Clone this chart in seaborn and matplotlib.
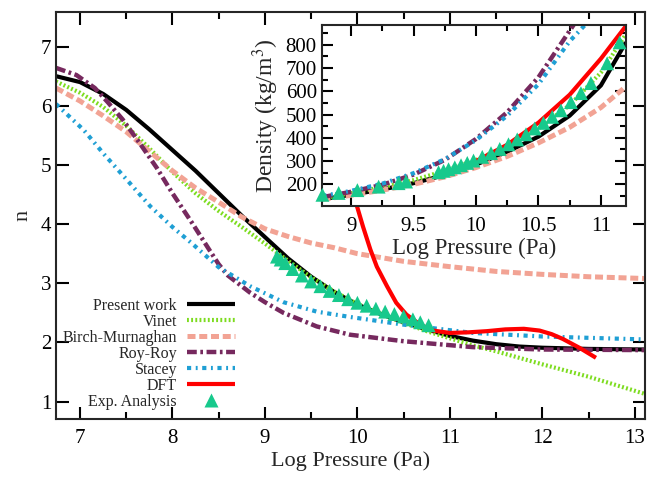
import numpy as np
import pandas as pd
import matplotlib
matplotlib.use("Agg")
import matplotlib.pyplot as plt
import seaborn as sns
from matplotlib.ticker import MultipleLocator, FuncFormatter
from matplotlib.lines import Line2D

# ---------------- main panel data (log pressure vs n) ----------------
x_present = [6.74, 7.0, 7.25, 7.5, 7.75, 8.0, 8.25, 8.5, 8.75, 9.0, 9.25, 9.5, 9.75,
             10.0, 10.25, 10.5, 10.75, 11.0, 11.25, 11.5, 11.75, 12.0, 12.5, 13.11]
n_present = [6.50, 6.40, 6.20, 5.93, 5.60, 5.25, 4.90, 4.52, 4.14, 3.78, 3.42, 3.11, 2.85,
             2.64, 2.48, 2.34, 2.22, 2.11, 2.03, 1.97, 1.93, 1.91, 1.89, 1.88]

x_vinet = [6.74, 7.0, 7.25, 7.5, 7.75, 8.0, 8.25, 8.5, 8.75, 9.0, 9.25, 9.5, 9.75,
           10.0, 10.25, 10.5, 10.75, 11.0, 11.25, 11.5, 12.0, 12.5, 13.11]
n_vinet = [6.41, 6.22, 5.98, 5.66, 5.28, 4.88, 4.52, 4.22, 3.95, 3.67, 3.38, 3.10, 2.86,
           2.65, 2.49, 2.33, 2.19, 2.07, 1.95, 1.85, 1.63, 1.42, 1.13]

x_bm = [6.74, 7.0, 7.25, 7.5, 7.75, 8.0, 8.25, 8.5, 8.75, 9.0, 9.25, 9.5, 9.75,
        10.0, 10.5, 11.0, 11.5, 12.0, 12.5, 13.11]
n_bm = [6.30, 6.08, 5.83, 5.56, 5.23, 4.90, 4.61, 4.37, 4.12, 3.92, 3.79, 3.68, 3.60,
        3.50, 3.37, 3.28, 3.20, 3.15, 3.11, 3.08]

x_rr = [6.74, 6.96, 7.16, 7.3, 7.46, 7.64, 7.83, 8.0, 8.22, 8.4, 8.5, 8.6, 8.84,
        9.0, 9.2, 9.56, 9.92, 10.5, 11.25, 12.0, 13.11]
n_rr = [6.64, 6.52, 6.30, 6.06, 5.77, 5.38, 4.95, 4.52, 4.00, 3.56, 3.32, 3.13, 2.84,
        2.68, 2.50, 2.27, 2.13, 2.02, 1.92, 1.88, 1.87]

x_stacey = [6.74, 7.04, 7.26, 7.5, 7.76, 8.0, 8.22, 8.5, 8.84, 9.2, 9.56, 9.92,
            10.5, 11.25, 12.0, 13.11]
n_stacey = [6.03, 5.59, 5.18, 4.76, 4.30, 3.95, 3.66, 3.27, 2.95, 2.68, 2.52, 2.43,
            2.30, 2.16, 2.10, 2.05]

x_dft = [9.95, 9.99, 10.06, 10.14, 10.21, 10.32, 10.42, 10.53, 10.68, 10.82, 11.0,
         11.2, 11.4, 11.6, 11.8, 11.97, 12.1, 12.22, 12.4, 12.58]
n_dft = [4.90, 4.33, 3.96, 3.57, 3.28, 2.95, 2.67, 2.47, 2.30, 2.20, 2.16,
         2.17, 2.19, 2.22, 2.23, 2.20, 2.14, 2.06, 1.91, 1.74]

x_exp = [9.13, 9.17, 9.22, 9.30, 9.40, 9.50, 9.60, 9.70, 9.80, 9.90, 10.00,
         10.10, 10.20, 10.30, 10.40, 10.50, 10.60, 10.68, 10.77]
n_exp = [3.45, 3.40, 3.34, 3.24, 3.13, 3.03, 2.95, 2.87, 2.80, 2.73, 2.67,
         2.62, 2.57, 2.52, 2.48, 2.44, 2.39, 2.34, 2.29]

# ---------------- inset data (log pressure vs density) ----------------
ix_common = [8.77, 9.0, 9.25, 9.5, 9.75, 10.0, 10.25, 10.5, 10.75, 11.0, 11.2]
rho_present = [136, 155, 178, 205, 240, 285, 340, 405, 495, 625, 810]
rho_vinet = [140, 162, 188, 218, 258, 305, 365, 440, 540, 680, 845]
rho_bm = [135, 153, 175, 200, 232, 272, 320, 378, 445, 530, 620]
ix_rr = [8.77, 9.0, 9.25, 9.5, 9.75, 10.0, 10.25, 10.5, 10.75, 10.8]
rho_rr = [145, 168, 198, 242, 305, 395, 510, 660, 860, 900]
ix_stacey = [8.77, 9.0, 9.25, 9.5, 9.75, 10.0, 10.25, 10.5, 10.75, 10.9]
rho_stacey = [150, 172, 203, 248, 308, 390, 495, 630, 815, 900]
ix_dft = [9.9, 10.0, 10.25, 10.5, 10.75, 11.0, 11.2]
rho_dft = [275, 300, 370, 465, 585, 740, 880]
ix_exp = [8.77, 8.90, 9.05, 9.22, 9.38, 9.44, 9.70, 9.74, 9.78, 9.83, 9.88, 9.93,
          9.98, 10.05, 10.12, 10.19, 10.26, 10.33, 10.40, 10.47, 10.54, 10.61,
          10.68, 10.76, 10.84, 10.92, 11.05, 11.15]
rho_exp = [155, 163, 175, 190, 205, 212, 252, 258, 265, 273, 282, 292,
           302, 318, 334, 352, 372, 393, 415, 440, 464, 490, 518, 553, 592, 635, 720, 810]

labels = ["Present work", "Vinet", "Birch-Murnaghan", "Roy-Roy", "Stacey", "DFT", "Exp. Analysis"]

# ---------------- styles ----------------
C_BLACK = "#000000"
C_VINET = "#7ddc1f"
C_BM = "#f2a394"
C_RR = "#76295e"
C_ST = "#1f9fd4"
C_DFT = "#ff0000"
C_EXP = "#17c98c"

st = {
    "present": dict(color=C_BLACK, lw=3.0, ls="-"),
    "vinet": dict(color=C_VINET, lw=3.0, ls=(0, (0.45, 0.55))),
    "bm": dict(color=C_BM, lw=3.6, ls=(0, (1.6, 0.75))),
    "rr": dict(color=C_RR, lw=3.2, ls=(0, (2.2, 0.8, 0.6, 0.8))),
    "st": dict(color=C_ST, lw=3.0, ls=(0, (1.0, 1.1, 0.45, 1.1))),
    "dft": dict(color=C_DFT, lw=3.0, ls="-"),
}

sns.set_theme(style="ticks")
plt.rcParams["font.family"] = ["Liberation Serif", "DejaVu Serif"]
plt.rcParams["mathtext.fontset"] = "stix"
plt.rcParams["axes.linewidth"] = 1.5

fig = plt.figure(figsize=(6.54, 4.79), dpi=100)
ax = fig.add_axes([0.0856, 0.1246, 0.9006, 0.851])


def draw(a, x, y, key, label=None):
    sns.lineplot(x=x, y=y, ax=a, color=st[key]["color"], linewidth=st[key]["lw"],
                 linestyle=st[key]["ls"], label=label, legend=False, sort=False,
                 solid_capstyle="butt", dash_capstyle="butt")


draw(ax, x_present, n_present, "present")
draw(ax, x_vinet, n_vinet, "vinet")
draw(ax, x_bm, n_bm, "bm")
draw(ax, x_rr, n_rr, "rr")
draw(ax, x_stacey, n_stacey, "st")
draw(ax, x_dft, n_dft, "dft")
sns.scatterplot(x=x_exp, y=n_exp, ax=ax, marker="^", s=100, color=C_EXP,
                edgecolor="none", legend=False, zorder=3)

ax.set_xlim(6.74, 13.11)
ax.set_ylim(0.70, 7.59)
ax.xaxis.set_major_locator(MultipleLocator(1))
ax.xaxis.set_minor_locator(MultipleLocator(0.5))
ax.yaxis.set_major_locator(MultipleLocator(1))
ax.tick_params(axis="both", which="both", direction="in", top=True, right=True,
               labelsize=15, width=1.5, colors="black")
ax.tick_params(which="major", length=9)
ax.tick_params(which="minor", length=5)
ax.tick_params(axis="x", pad=7)
ax.set_xlabel("Log Pressure (Pa)", fontsize=16, labelpad=2)
ax.set_ylabel("n", fontsize=16, labelpad=6)

handles = [Line2D([], [], color=st[k]["color"], lw=st[k]["lw"], ls=st[k]["ls"],
                  solid_capstyle="butt", dash_capstyle="butt")
           for k in ["present", "vinet", "bm", "rr", "st", "dft"]]
handles.append(Line2D([], [], ls="none", marker="^", markersize=10, color=C_EXP,
                      markeredgecolor="none"))
leg = ax.legend(handles, labels, loc="lower left", bbox_to_anchor=(-0.005, 0.0),
                markerfirst=False, frameon=False, fontsize=11.5, handlelength=3.0,
                handletextpad=0.6, labelspacing=0.0, borderaxespad=0.2)
for t in leg.get_texts():
    t.set_ha("right")
leg._legend_box.align = "right"

# ---------------- inset ----------------
ins = fig.add_axes([0.493, 0.570, 0.464, 0.378])
ins.set_facecolor("white")
draw(ins, ix_common, rho_present, "present")
draw(ins, ix_common, rho_vinet, "vinet")
draw(ins, ix_common, rho_bm, "bm")
draw(ins, ix_rr, rho_rr, "rr")
draw(ins, ix_stacey, rho_stacey, "st")
draw(ins, ix_dft, rho_dft, "dft")
sns.scatterplot(x=ix_exp, y=rho_exp, ax=ins, marker="^", s=100, color=C_EXP,
                edgecolor="none", legend=False, zorder=3, clip_on=False)
ins.set_xlim(8.77, 11.2)
ins.set_ylim(107, 885)
ins.xaxis.set_major_locator(MultipleLocator(0.5))
ins.xaxis.set_minor_locator(MultipleLocator(0.25))
ins.xaxis.set_major_formatter(FuncFormatter(lambda v, p: f"{v:g}"))
ins.yaxis.set_major_locator(MultipleLocator(100))
ins.yaxis.set_minor_locator(MultipleLocator(50))
ins.set_yticks([200, 300, 400, 500, 600, 700, 800])
ins.tick_params(axis="both", which="both", direction="in", top=True, right=True,
                labelsize=15, width=1.5, colors="black")
ins.tick_params(which="major", length=8)
ins.tick_params(which="minor", length=4)
ins.tick_params(axis="x", pad=8)
ins.tick_params(axis="y", pad=4)
ins.set_xlabel("Log Pressure (Pa)", fontsize=16.5, labelpad=1)
ins.set_ylabel("Density (kg/m$^3$)", fontsize=17, labelpad=3)
for s in ins.spines.values():
    s.set_linewidth(1.5)

fig.savefig("out.png", dpi=100)
